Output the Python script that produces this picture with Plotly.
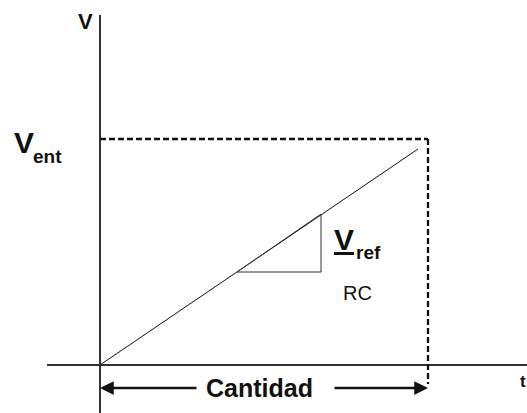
import plotly.graph_objects as go

# ---- data (origin of the graph at t=0, V=0) ----
ramp_t = [0, 318]
ramp_v = [0, 216]
t_end = 328
v_ent = 226
tri_t = [137, 221, 221, 137]
tri_v = [93, 93, 151, 93]
axis_t = [-53, 427]
axis_v = [-48, 350]
arrow_v = -23
arrow_left_tail = 98
arrow_right_tail = 233
x_range = [-100, 427]
y_range = [-48, 365]

FONT = "Arial, Liberation Sans, sans-serif"
INK = "#111111"

fig = go.Figure()

# axes
fig.add_trace(go.Scatter(x=axis_t, y=[0, 0], mode="lines",
                         line=dict(color="#333333", width=2)))
fig.add_trace(go.Scatter(x=[0, 0], y=axis_v, mode="lines",
                         line=dict(color="#333333", width=2)))
# dashed guides
fig.add_trace(go.Scatter(x=[0, t_end], y=[v_ent, v_ent], mode="lines",
                         line=dict(color=INK, width=2.3, dash="6px,3px")))
fig.add_trace(go.Scatter(x=[t_end, t_end], y=[v_ent, arrow_v + 4], mode="lines",
                         line=dict(color=INK, width=2.3, dash="6px,3px")))
# ramp
fig.add_trace(go.Scatter(x=ramp_t, y=ramp_v, mode="lines",
                         line=dict(color=INK, width=1)))
# slope triangle
fig.add_trace(go.Scatter(x=tri_t, y=tri_v, mode="lines",
                         line=dict(color="#333333", width=1)))

ann = []
# arrows
ann.append(dict(x=0, y=arrow_v, ax=arrow_left_tail, ay=arrow_v, axref="x", ayref="y",
                xref="x", yref="y", text="", showarrow=True, arrowhead=2,
                arrowsize=1.1, arrowwidth=2.5, arrowcolor=INK, standoff=0))
ann.append(dict(x=t_end, y=arrow_v, ax=arrow_right_tail, ay=arrow_v, axref="x", ayref="y",
                xref="x", yref="y", text="", showarrow=True, arrowhead=2,
                arrowsize=1.1, arrowwidth=2.5, arrowcolor=INK, standoff=0))


def txt(x, y, s, size, bold=True, xanchor="center"):
    return dict(x=x, y=y, xref="x", yref="y", text=("<b>%s</b>" % s) if bold else s,
                showarrow=False, xanchor=xanchor, yanchor="middle", borderpad=0,
                font=dict(family=FONT, size=size, color=INK))


ann.append(txt(159, arrow_v, "Cantidad", 25))
ann.append(txt(-15, 344, "V", 22))
ann.append(txt(-76.5, 223, "V", 30))
ann.append(txt(-68, 209, "ent", 19, xanchor="left"))
ann.append(txt(233, 126, "<u>V</u>", 30, xanchor="left"))
ann.append(txt(255, 113, "ref", 19, xanchor="left"))
ann.append(txt(242, 72, "RC", 20, bold=False, xanchor="left"))
ann.append(txt(419, -16, "t", 17, xanchor="left"))

fig.update_layout(
    width=527, height=413, autosize=False,
    margin=dict(l=0, r=0, t=0, b=0, pad=0),
    paper_bgcolor="white", plot_bgcolor="white",
    showlegend=False,
    xaxis=dict(range=x_range, visible=False, fixedrange=True),
    yaxis=dict(range=y_range, visible=False, fixedrange=True),
    annotations=ann,
)

fig.write_html("out.html", config={"displayModeBar": False},
               post_script="document.body.style.margin='0';document.body.style.overflow='hidden';")
